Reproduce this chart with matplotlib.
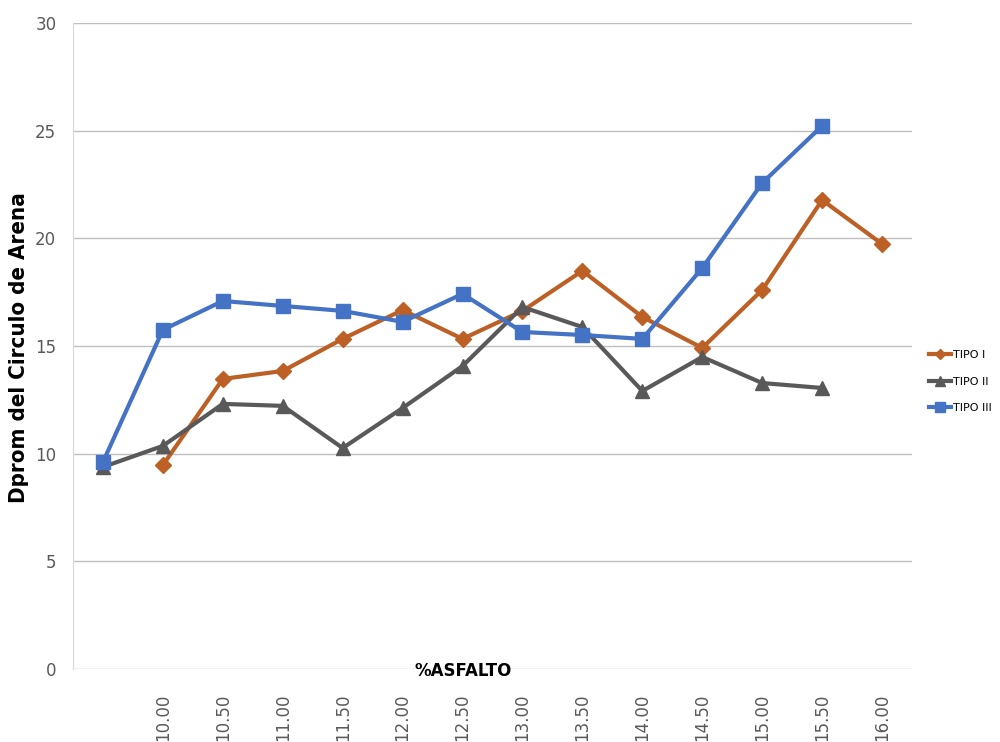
import numpy as np
import matplotlib
matplotlib.use("Agg")
import matplotlib.pyplot as plt

# data
categorias = ["", "10.00", "10.50", "11.00", "11.50", "12.00", "12.50", "13.00",
              "13.50", "14.00", "14.50", "15.00", "15.50", "16.00"]
tipo_1 = [np.nan, 9.47, 13.47, 13.84, 15.33, 16.67, 15.33, 16.63,
          18.49, 16.35, 14.91, 17.60, 21.78, 19.74]
tipo_2 = [9.38, 10.36, 12.31, 12.22, 10.26, 12.12, 14.07, 16.81,
          15.88, 12.91, 14.49, 13.28, 13.05, np.nan]
tipo_3 = [9.61, 15.75, 17.09, 16.86, 16.63, 16.12, 17.42, 15.65,
          15.51, 15.33, 18.62, 22.57, 25.22, np.nan]

x = np.arange(len(categorias))

fig = plt.figure(figsize=(10, 7.42), dpi=100)
ax = fig.add_axes([0.073, 0.0984, 0.839, 0.8706])

ax.plot(x, tipo_1, color="#BD6026", lw=3, marker="D", ms=8, label="TIPO I")
ax.plot(x, tipo_2, color="#595959", lw=3, marker="^", ms=10, label="TIPO II")
ax.plot(x, tipo_3, color="#4472C4", lw=3, marker="s", ms=10, label="TIPO III")

ax.set_xlim(-0.5, len(categorias) - 0.5)
ax.set_ylim(0, 30)
ax.set_yticks(range(0, 31, 5))
ax.set_xticks(x)
ax.set_xticklabels(categorias, rotation=90, fontsize=12, color="#595959")
ax.tick_params(axis="y", labelsize=12, labelcolor="#595959", length=0, pad=12)
ax.tick_params(axis="x", length=0, pad=18)

ax.grid(axis="y", color="#BFBFBF", lw=1)
ax.set_axisbelow(True)
for s in ["top", "right", "bottom"]:
    ax.spines[s].set_visible(False)
ax.spines["left"].set_color("#D9D9D9")

fig.text(0.019, 0.532, "Dprom del Circulo de Arena", rotation=90,
         ha="center", va="center", fontsize=16, fontweight="bold",
         family="DejaVu Sans", fontstretch="condensed")
fig.text(0.463, 0.096, "%ASFALTO", ha="center", va="center",
         fontsize=12, fontweight="bold")

ax.legend(loc="center left", bbox_to_anchor=(1.02, 0.445), frameon=False,
          fontsize=8, handlelength=2.0, labelspacing=1.5, handletextpad=0.2,
          markerscale=0.65, borderaxespad=0.0, borderpad=0.0)

fig.savefig("out.png", dpi=100)
